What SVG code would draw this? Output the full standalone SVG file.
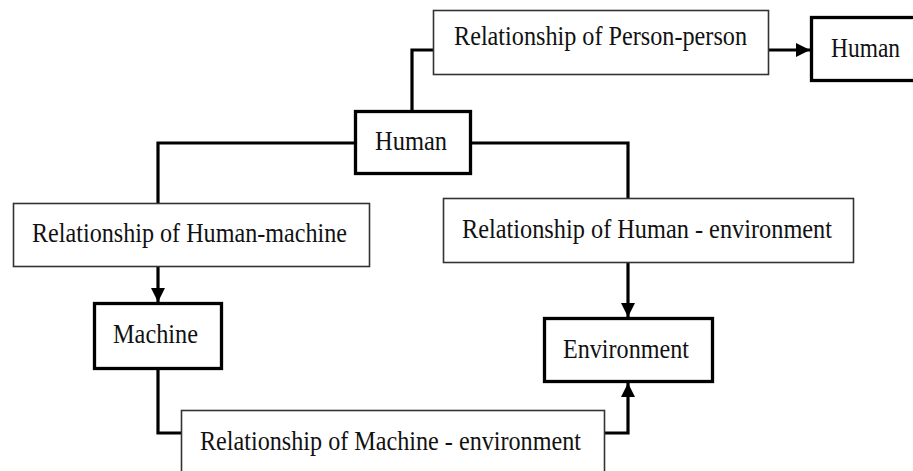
<svg xmlns="http://www.w3.org/2000/svg" width="913" height="471" viewBox="0 0 913 471">
<style>
.thin{fill:#fff;stroke:#333;stroke-width:1.6}
.thick{fill:#fff;stroke:#000;stroke-width:3.3}
.t{font-family:"Liberation Serif","Times New Roman",serif;font-size:27px;fill:#111}
.c{fill:none;stroke:#000;stroke-width:3.2}
</style>
<defs>
<marker id="ah" markerUnits="userSpaceOnUse" markerWidth="14" markerHeight="14" refX="14" refY="7" orient="auto">
<path d="M0,0 L14,7 L0,14 z" fill="#000"/>
</marker>
</defs>
<rect width="913" height="471" fill="#fff"/>
<g id="connectors">
<path class="c" d="M412 110 V50 H433"/>
<path class="c" d="M769 50 H810" marker-end="url(#ah)"/>
<path class="c" d="M354 143 H158 V203"/>
<path class="c" d="M472 143 H628 V198"/>
<path class="c" d="M158 267 V302" marker-end="url(#ah)"/>
<path class="c" d="M628 263 V317" marker-end="url(#ah)"/>
<path class="c" d="M158 370 V433 H181"/>
<path class="c" d="M605 433 H628 V383" marker-end="url(#ah)"/>
</g>
<g id="rel-person-person">
<rect class="thin" x="433.5" y="10.5" width="335" height="64"/>
<text class="t" x="454" y="45" textLength="293" lengthAdjust="spacingAndGlyphs">Relationship of Person-person</text>
</g>
<g id="human-right">
<rect class="thick" x="811.5" y="17.5" width="130" height="63"/>
<text class="t" x="831" y="57" textLength="69" lengthAdjust="spacingAndGlyphs">Human</text>
</g>
<g id="human-center">
<rect class="thick" x="355.5" y="111.5" width="115" height="62"/>
<text class="t" x="375" y="150" textLength="72" lengthAdjust="spacingAndGlyphs">Human</text>
</g>
<g id="rel-human-machine">
<rect class="thin" x="13.5" y="203.5" width="356" height="63"/>
<text class="t" x="32" y="242" textLength="315" lengthAdjust="spacingAndGlyphs">Relationship of Human-machine</text>
</g>
<g id="rel-human-environment">
<rect class="thin" x="443.5" y="198.5" width="410" height="64"/>
<text class="t" x="462" y="238" textLength="370" lengthAdjust="spacingAndGlyphs">Relationship of Human - environment</text>
</g>
<g id="machine">
<rect class="thick" x="94.5" y="303.5" width="127" height="65"/>
<text class="t" x="113" y="343" textLength="85" lengthAdjust="spacingAndGlyphs">Machine</text>
</g>
<g id="environment">
<rect class="thick" x="544.5" y="318.5" width="168" height="63"/>
<text class="t" x="563" y="358" textLength="126" lengthAdjust="spacingAndGlyphs">Environment</text>
</g>
<g id="rel-machine-environment">
<rect class="thin" x="181.5" y="410.5" width="423" height="80"/>
<text class="t" x="200" y="450" textLength="381" lengthAdjust="spacingAndGlyphs">Relationship of Machine - environment</text>
</g>
</svg>
